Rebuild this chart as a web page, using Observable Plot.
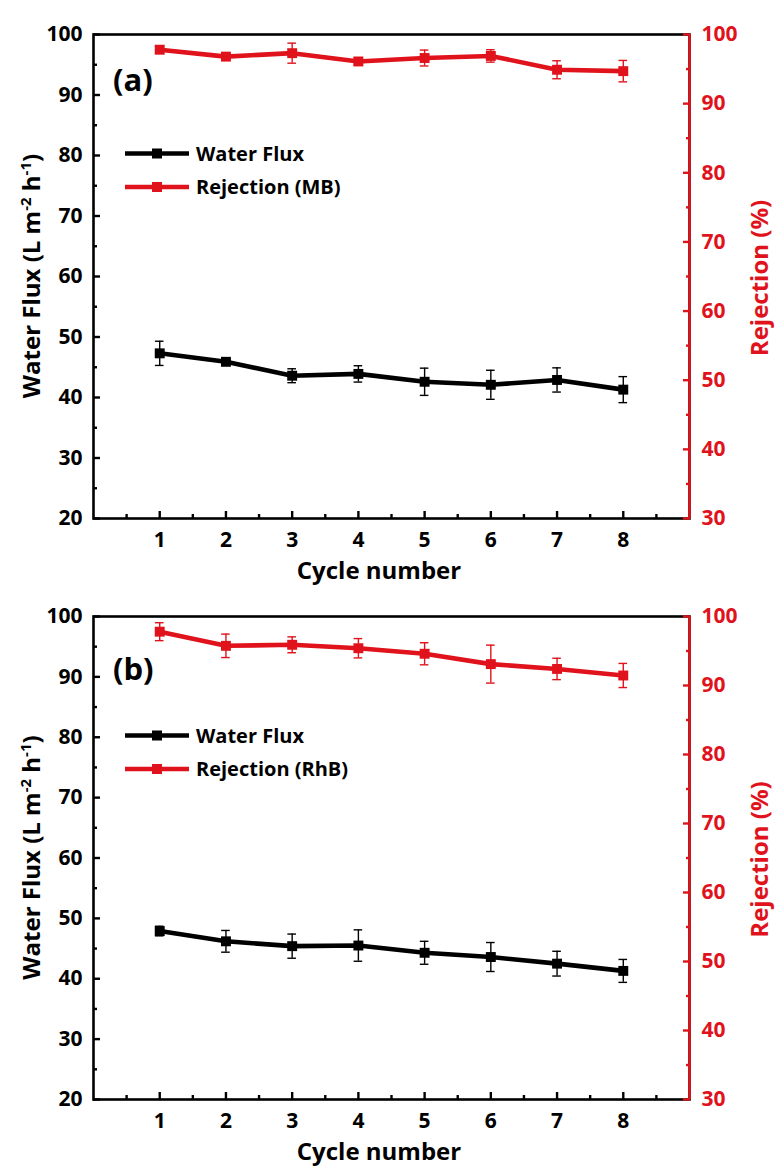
<!DOCTYPE html>
<html>
<head>
<meta charset="utf-8">
<script src="https://cdn.jsdelivr.net/npm/d3@7"></script>
<script src="https://cdn.jsdelivr.net/npm/@observablehq/plot@0.6"></script>
<style>
  body { margin: 0; background: #fff; }
  .panel { width: 784px; display: block; }
  .panel svg { display: block; }
</style>
</head>
<body>
<div id="pa" class="panel"></div>
<div id="pb" class="panel"></div>
<script>
// ---- data ----
const cycles = [1, 2, 3, 4, 5, 6, 7, 8];

const fluxA    = [47.3, 45.9, 43.6, 43.9, 42.6, 42.1, 42.9, 41.3];
const fluxErrA = [2.0, 0.4, 1.15, 1.35, 2.25, 2.4, 2.0, 2.15];
const rejA     = [97.8, 96.8, 97.3, 96.1, 96.6, 96.9, 94.9, 94.7];
const rejErrA  = [0.5, 0.5, 1.45, 0.5, 1.15, 0.9, 1.3, 1.55];

const fluxB    = [47.9, 46.2, 45.4, 45.5, 44.3, 43.6, 42.5, 41.3];
const fluxErrB = [0.8, 1.8, 2.0, 2.6, 1.9, 2.4, 2.05, 1.9];
const rejB     = [97.8, 95.75, 95.9, 95.4, 94.6, 93.1, 92.4, 91.45];
const rejErrB  = [1.3, 1.7, 1.15, 1.4, 1.6, 2.75, 1.55, 1.75];

const xDomain = [0, 9];
const leftDomain = [20, 100];
const rightDomain = [30, 100];
const xTicks = [1, 2, 3, 4, 5, 6, 7, 8];
const xMinor = [0.5, 1.5, 2.5, 3.5, 4.5, 5.5, 6.5, 7.5, 8.5];
const leftTicks = [20, 30, 40, 50, 60, 70, 80, 90, 100];
const leftMinor = [25, 35, 45, 55, 65, 75, 85, 95];
const rightTicks = [30, 40, 50, 60, 70, 80, 90, 100];
const rightMinor = [35, 45, 55, 65, 75, 85, 95];

const xTitle = "Cycle number";
const rightTitle = "Rejection (%)";
const fluxName = "Water Flux";

// ---- style ----
const RED = "#e0131c";
const FONT = "'Open Sans', 'DejaVu Sans', sans-serif";

const toLeft = r => leftDomain[0] + (r - rightDomain[0]) * (leftDomain[1] - leftDomain[0]) / (rightDomain[1] - rightDomain[0]);
const fromLeft = v => rightDomain[0] + (v - leftDomain[0]) * (rightDomain[1] - rightDomain[0]) / (leftDomain[1] - leftDomain[0]);

function series(data, color) {
  const capW = 0.065;
  return [
    Plot.line(data, {x: "c", y: "v", stroke: color, strokeWidth: 4.6}),
    Plot.ruleX(data, {x: "c", y1: "lo", y2: "hi", stroke: color, strokeWidth: 1.4}),
    Plot.ruleY(data, {y: "lo", x1: d => d.c - capW, x2: d => d.c + capW, stroke: color, strokeWidth: 1.4}),
    Plot.ruleY(data, {y: "hi", x1: d => d.c - capW, x2: d => d.c + capW, stroke: color, strokeWidth: 1.4}),
    Plot.dot(data, {x: "c", y: "v", symbol: "square", r: 5.6, fill: color, stroke: null})
  ];
}

function panel(el, cfg) {
  const {flux, fluxErr, rej, rejErr, tag, rejName, height, marginTop, tagOffset} = cfg;
  const fd = cycles.map((c, i) => ({c, v: flux[i], lo: flux[i] - fluxErr[i], hi: flux[i] + fluxErr[i]}));
  const rd = cycles.map((c, i) => ({c, v: toLeft(rej[i]), lo: toLeft(rej[i] - rejErr[i]), hi: toLeft(rej[i] + rejErr[i])}));
  const marginBottom = 72, marginLeft = 93, marginRight = 95;
  const axisFont = {fontSize: 21, fontWeight: 700};

  const svg = Plot.plot({
    width: 784,
    height,
    marginTop, marginBottom, marginLeft, marginRight,
    x: {domain: xDomain},
    y: {domain: leftDomain},
    style: {fontFamily: FONT, fontSize: "21px", fontWeight: 700, background: "#fff", color: "#000", overflow: "visible"},
    marks: [
      ...series(fd, "#000"),
      ...series(rd, RED),
      Plot.frame({stroke: "#000", strokeWidth: 2.6}),
      Plot.ruleX([xDomain[1]], {stroke: RED, strokeWidth: 2.6}),
      // bottom axis
      Plot.axisX(xTicks, {anchor: "bottom", tickSize: -7, tickPadding: 21, strokeWidth: 2.4, label: null, ...axisFont}),
      Plot.axisX(xMinor, {anchor: "bottom", tickSize: -4, strokeWidth: 2.4, fill: "none", label: null}),
      // left axis
      Plot.axisY(leftTicks, {anchor: "left", tickSize: -7, tickPadding: 18, strokeWidth: 2.4, label: null, ...axisFont}),
      Plot.axisY(leftMinor, {anchor: "left", tickSize: -4, strokeWidth: 2.4, fill: "none", label: null}),
      // right axis (rejection)
      Plot.axisY(rightTicks.map(toLeft), {anchor: "right", tickSize: -7, tickPadding: 19, strokeWidth: 2.4,
        stroke: RED, fill: RED, label: null, tickFormat: d => String(Math.round(fromLeft(d))), ...axisFont}),
      Plot.axisY(rightMinor.map(toLeft), {anchor: "right", tickSize: -4, strokeWidth: 2.4, stroke: RED, fill: "none", label: null})
    ]
  });

  const s = d3.select(svg);
  const plotBottom = height - marginBottom;
  const plotMid = (marginTop + plotBottom) / 2;

  // left axis title with superscripts
  const lt = s.append("text")
    .attr("transform", `translate(40,${plotMid}) rotate(-90)`)
    .attr("text-anchor", "middle")
    .attr("font-family", FONT).attr("font-size", 24).attr("font-weight", 700).attr("fill", "#000");
  lt.append("tspan").text("Water Flux (L m");
  lt.append("tspan").attr("dy", -9).attr("font-size", 15).text("-2");
  lt.append("tspan").attr("dy", 9).text(" h");
  lt.append("tspan").attr("dy", -9).attr("font-size", 15).text("-1");
  lt.append("tspan").attr("dy", 9).text(")");

  // right axis title
  s.append("text")
    .attr("transform", `translate(768,${plotMid + 2}) rotate(-90)`)
    .attr("text-anchor", "middle")
    .attr("font-family", FONT).attr("font-size", 24).attr("font-weight", 700).attr("fill", RED)
    .text(rightTitle);

  // x axis title
  s.append("text")
    .attr("x", 379).attr("y", plotBottom + 61)
    .attr("text-anchor", "middle")
    .attr("font-family", FONT).attr("font-size", 24).attr("font-weight", 700).attr("fill", "#000")
    .text(xTitle);

  // panel tag
  s.append("text")
    .attr("x", 113).attr("y", marginTop + tagOffset + 8)
    .attr("text-anchor", "start")
    .attr("font-family", FONT).attr("font-size", 31).attr("font-weight", 700).attr("fill", "#000")
    .text(tag);

  // legend
  const rows = [{name: fluxName, color: "#000", dy: 119.5}, {name: rejName, color: RED, dy: 153}];
  for (const r of rows) {
    const y = marginTop + r.dy;
    const g = s.append("g");
    g.append("line").attr("x1", 125).attr("x2", 189).attr("y1", y).attr("y2", y)
      .attr("stroke", r.color).attr("stroke-width", 4.6);
    g.append("rect").attr("x", 152).attr("y", y - 5).attr("width", 10).attr("height", 10).attr("fill", r.color);
    g.append("text").attr("x", 196).attr("y", y).attr("dy", "0.36em")
      .attr("text-anchor", "start")
      .attr("font-family", FONT).attr("font-size", 20).attr("font-weight", 700).attr("fill", "#000")
      .text(r.name);
  }
  document.getElementById(el).appendChild(svg);
}

panel("pa", {flux: fluxA, fluxErr: fluxErrA, rej: rejA, rejErr: rejErrA, tag: "(a)", rejName: "Rejection (MB)",
  height: 590, marginTop: 34, tagOffset: 48.5});
panel("pb", {flux: fluxB, fluxErr: fluxErrB, rej: rejB, rejErr: rejErrB, tag: "(b)", rejName: "Rejection (RhB)",
  height: 581, marginTop: 26, tagOffset: 55.5});
</script>
</body>
</html>
